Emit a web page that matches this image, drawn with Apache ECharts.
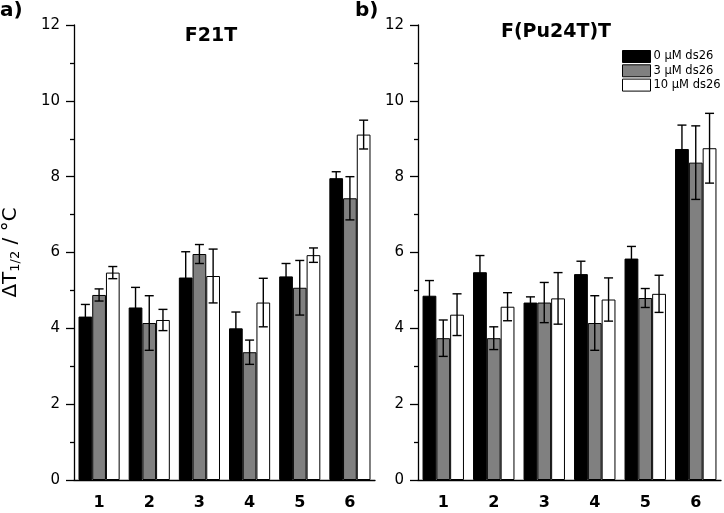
<!DOCTYPE html>
<html>
<head>
<meta charset="utf-8">
<script src="https://cdn.jsdelivr.net/npm/echarts@6/dist/echarts.min.js"></script>
<style>html,body{margin:0;padding:0;background:#fff}#c{width:724px;height:513px}</style>
</head>
<body>
<div id="c"></div>
<script>
const categories = ['1', '2', '3', '4', '5', '6'];
const seriesNames = ['0 µM ds26', '3 µM ds26', '10 µM ds26'];
const yTicks = [0, 2, 4, 6, 8, 10, 12];

// Panel a) F21T
const a0 = [4.31, 4.55, 5.34, 4.00, 5.37, 7.96];
const a0Err = [0.32, 0.53, 0.68, 0.43, 0.34, 0.17];
const a3 = [4.88, 4.14, 5.96, 3.37, 5.07, 7.43];
const a3Err = [0.16, 0.72, 0.25, 0.32, 0.72, 0.57];
const a10 = [5.47, 4.22, 5.38, 4.68, 5.93, 9.11];
const a10Err = [0.16, 0.28, 0.71, 0.64, 0.19, 0.38];

// Panel b) F(Pu24T)T
const b0 = [4.86, 5.48, 4.68, 5.43, 5.84, 8.73];
const b0Err = [0.40, 0.44, 0.15, 0.34, 0.32, 0.63];
const b3 = [3.74, 3.74, 4.68, 4.14, 4.80, 8.37];
const b3Err = [0.48, 0.30, 0.53, 0.72, 0.25, 0.97];
const b10 = [4.36, 4.57, 4.79, 4.76, 4.91, 8.75];
const b10Err = [0.55, 0.37, 0.68, 0.57, 0.49, 0.92];

const colors = ['#000000', '#808080', '#ffffff'];
const FONT = 'DejaVu Sans';
const CAT_GAP = 0.18;

function errSeries(vals, errs, k, gi) {
  return {
    type: 'custom',
    xAxisIndex: gi, yAxisIndex: gi,
    z: 10,
    silent: true,
    data: vals.map((v, i) => [i, v, errs[i]]),
    encode: { x: 0, y: 1 },
    renderItem: function (params, api) {
      const i = api.value(0), v = api.value(1), e = api.value(2);
      const band = api.size([1, 0])[0];
      const bw = band * (1 - CAT_GAP) / 3;
      const off = (k - 1) * bw;
      const top = api.coord([i, v + e]);
      const bot = api.coord([i, v - e]);
      const x = top[0] + off;
      const cap = 4.5;
      const st = { stroke: '#000', lineWidth: 1.4, fill: null };
      return {
        type: 'group',
        children: [
          { type: 'line', shape: { x1: x, y1: top[1], x2: x, y2: bot[1] }, style: st },
          { type: 'line', shape: { x1: x - cap, y1: top[1], x2: x + cap, y2: top[1] }, style: st },
          { type: 'line', shape: { x1: x - cap, y1: bot[1], x2: x + cap, y2: bot[1] }, style: st }
        ]
      };
    }
  };
}

function barSeries(vals, k, gi) {
  return {
    name: seriesNames[k],
    type: 'bar',
    xAxisIndex: gi, yAxisIndex: gi,
    data: vals,
    barGap: '0%',
    barCategoryGap: (CAT_GAP * 100) + '%',
    itemStyle: { color: colors[k], borderColor: '#000', borderWidth: 1 },
    emphasis: { disabled: true }
  };
}

function xAxis(gi) {
  return {
    type: 'category', gridIndex: gi, data: categories,
    axisLine: { lineStyle: { color: '#000', width: 1.3 } },
    axisTick: { alignWithLabel: true, length: 8, lineStyle: { color: '#000', width: 1.3 } },
    axisLabel: { color: '#000', fontFamily: FONT, fontWeight: 'bold', fontSize: 16, margin: 15 }
  };
}

function yAxis(gi, withName) {
  const ax = {
    type: 'value', gridIndex: gi, min: yTicks[0], max: yTicks[yTicks.length - 1], interval: 2,
    axisLine: { show: true, lineStyle: { color: '#000', width: 1.3 } },
    axisTick: { show: true, length: 8, lineStyle: { color: '#000', width: 1.3 } },
    minorTick: { show: true, splitNumber: 2, length: 4, lineStyle: { color: '#000', width: 1.3 } },
    splitLine: { show: false },
    axisLabel: { color: '#000', fontFamily: FONT, fontSize: 15, margin: 14 }
  };
  if (withName) {
    ax.name = '{a|ΔT}{s|1/2}{a| / °C}';
    ax.nameLocation = 'middle';
    ax.nameGap = 52;
    ax.nameTextStyle = {
      rich: {
        a: { fontFamily: FONT, fontSize: 20, color: '#000' },
        s: { fontFamily: FONT, fontSize: 13, color: '#000', padding: [9, 0, 0, 0] }
      }
    };
  }
  return ax;
}

const chart = echarts.init(document.getElementById('c'), null, { renderer: 'canvas' });
chart.setOption({
  animation: false,
  backgroundColor: '#fff',
  grid: [
    { left: 71, right: 349, top: 25, bottom: 33 },
    { left: 418, right: 3, top: 25, bottom: 33 }
  ],
  xAxis: [xAxis(0), xAxis(1)],
  yAxis: [yAxis(0, true), yAxis(1, false)],
  legend: {
    orient: 'vertical', left: 622, top: 50, padding: 0,
    itemWidth: 28, itemHeight: 12, itemGap: 1.3,
    icon: 'rect',
    data: seriesNames,
    selectedMode: false,
    itemStyle: { borderColor: '#000', borderWidth: 1 },
    textStyle: { fontFamily: FONT, fontSize: 11.5, color: '#000', padding: [0, 0, 0, -2] }
  },
  graphic: [
    { type: 'text', left: 0, top: 1, style: { text: 'a)', font: 'bold 20px "DejaVu Sans"', fill: '#000' } },
    { type: 'text', left: 355, top: 1, style: { text: 'b)', font: 'bold 20px "DejaVu Sans"', fill: '#000' } },
    { type: 'text', x: 211, y: 27, style: { text: 'F21T', font: 'bold 19px "DejaVu Sans"', fill: '#000', align: 'center', verticalAlign: 'top' } },
    { type: 'text', x: 556, y: 23, style: { text: 'F(Pu24T)T', font: 'bold 19px "DejaVu Sans"', fill: '#000', align: 'center', verticalAlign: 'top' } }
  ],
  series: [
    barSeries(a0, 0, 0), barSeries(a3, 1, 0), barSeries(a10, 2, 0),
    barSeries(b0, 0, 1), barSeries(b3, 1, 1), barSeries(b10, 2, 1),
    errSeries(a0, a0Err, 0, 0), errSeries(a3, a3Err, 1, 0), errSeries(a10, a10Err, 2, 0),
    errSeries(b0, b0Err, 0, 1), errSeries(b3, b3Err, 1, 1), errSeries(b10, b10Err, 2, 1)
  ]
});
</script>
</body>
</html>
